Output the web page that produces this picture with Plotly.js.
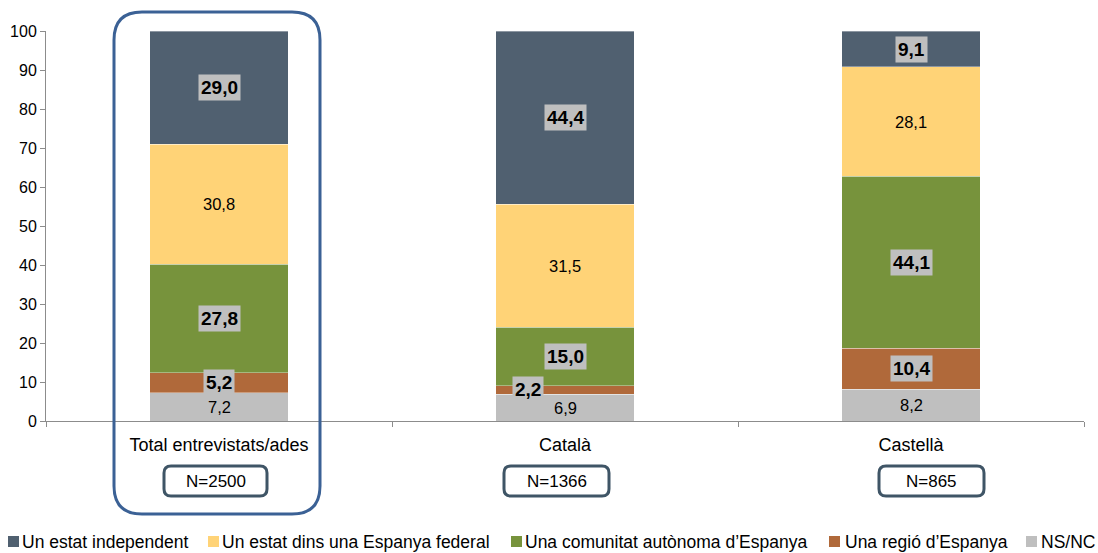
<!DOCTYPE html>
<html>
<head>
<meta charset="utf-8">
<script src="https://cdn.plot.ly/plotly-3.0.1.min.js"></script>
<style>html,body{margin:0;padding:0;background:#fff;}#chart{width:1098px;height:553px;}</style>
</head>
<body>
<div id="chart"></div>
<script>
// ---- data ----
const categories = ['Total entrevistats/ades', 'Català', 'Castellà'];
const sampleSizes = ['N=2500', 'N=1366', 'N=865'];
const seriesNames = ['Un estat independent', 'Un estat dins una Espanya federal', 'Una comunitat autònoma d\u2019Espanya', 'Una regió d\u2019Espanya', 'NS/NC'];
const independent = [29.0, 44.4, 9.1];
const federal = [30.8, 31.5, 28.1];
const comunitat = [27.8, 15.0, 44.1];
const regio = [5.2, 2.2, 10.4];
const nsnc = [7.2, 6.9, 8.2];

// ---- styles ----
const colors = ['#506070', '#FFD377', '#77933C', '#B0693A', '#BFBFBF'];
const boldLabel = [true, false, true, true, false];
const FONT = '"Liberation Sans", Arial, sans-serif';

// stacking order bottom -> top
const stackSeries = [nsnc, regio, comunitat, federal, independent];
const stackIdx = [4, 3, 2, 1, 0];

const W = 1098, H = 553, ML = 46, MR = 14, MT = 31, MB = 132;
const PW = W - ML - MR, PH = H - MT - MB;
const px = x => (x - ML) / PW;
const py = y => (MT + PH - y) / PH;

const traces = stackSeries.map((vals, k) => {
  const i = stackIdx[k];
  return {
    type: 'bar', x: categories, y: vals, name: seriesNames[i],
    marker: {color: colors[i], line: {color: 'rgba(255,255,255,0.35)', width: 1}},
    width: 0.4, hoverinfo: 'skip', showlegend: false
  };
});

const fmt = v => v.toFixed(1).replace('.', ',');
const annotations = [];
const base = [0, 0, 0];
stackSeries.forEach((vals, k) => {
  const i = stackIdx[k];
  vals.forEach((v, c) => {
    const mid = base[c] + v / 2;
    base[c] += v;
    const bold = boldLabel[i];
    let xshift = 0;
    if (i === 3 && v < 4) xshift = -37;
    annotations.push({
      x: categories[c], y: mid, xref: 'x', yref: 'y', showarrow: false,
      xanchor: 'center', yanchor: 'middle',
      text: bold ? '<b>' + fmt(v) + '</b>' : fmt(v),
      font: {family: FONT, size: bold ? 19 : 16.5, color: '#000'},
      bgcolor: bold ? '#BFBFBF' : 'rgba(0,0,0,0)',
      borderpad: bold ? 2 : 0, xshift: xshift
    });
  });
});

function roundRect(x0, y0, x1, y1, r) {
  const X = px, Y = py;
  return 'M' + X(x0 + r) + ',' + Y(y0) +
    ' L' + X(x1 - r) + ',' + Y(y0) + ' Q' + X(x1) + ',' + Y(y0) + ' ' + X(x1) + ',' + Y(y0 + r) +
    ' L' + X(x1) + ',' + Y(y1 - r) + ' Q' + X(x1) + ',' + Y(y1) + ' ' + X(x1 - r) + ',' + Y(y1) +
    ' L' + X(x0 + r) + ',' + Y(y1) + ' Q' + X(x0) + ',' + Y(y1) + ' ' + X(x0) + ',' + Y(y1 - r) +
    ' L' + X(x0) + ',' + Y(y0 + r) + ' Q' + X(x0) + ',' + Y(y0) + ' ' + X(x0 + r) + ',' + Y(y0) + ' Z';
}

const shapes = [];
shapes.push({type: 'path', xref: 'paper', yref: 'paper', path: roundRect(114, 12, 320, 514, 28),
  line: {color: '#3B6195', width: 3}});
const nBoxes = [[164, 267], [504, 609], [879, 984]];
nBoxes.forEach((b, c) => {
  shapes.push({type: 'path', xref: 'paper', yref: 'paper', path: roundRect(b[0], 466, b[1], 496, 7),
    line: {color: '#3F5566', width: 3}});
  annotations.push({xref: 'paper', yref: 'paper', x: px((b[0] + b[1]) / 2), y: py(482),
    xanchor: 'center', yanchor: 'middle',
    text: sampleSizes[c], showarrow: false, font: {family: FONT, size: 17, color: '#000'}});
});

// custom legend
const legSquares = [8, 208, 511, 829, 1026];
const legText = [20, 220, 523, 843, 1039];
seriesNames.forEach((name, i) => {
  const sx = legSquares[i];
  shapes.push({type: 'rect', xref: 'paper', yref: 'paper', x0: px(sx), x1: px(sx + 11), y0: py(547), y1: py(536),
    fillcolor: colors[i], line: {width: 0}});
  annotations.push({xref: 'paper', yref: 'paper', x: px(legText[i]), y: py(542), xanchor: 'left', yanchor: 'middle',
    text: name, showarrow: false, font: {family: FONT, size: 17.5, color: '#000'}});
});

const layout = {
  width: W, height: H, margin: {l: ML, r: MR, t: MT, b: MB},
  barmode: 'stack', showlegend: false,
  paper_bgcolor: '#fff', plot_bgcolor: '#fff',
  font: {family: FONT, color: '#000'},
  xaxis: {type: 'category', range: [-0.5, 2.5], showline: true, linecolor: '#8C8C8C', linewidth: 1,
    ticks: 'outside', tickson: 'boundaries', ticklen: 5, tickcolor: '#8C8C8C', ticklabelstandoff: 7,
    tickfont: {family: FONT, size: 18, color: '#000'}, showgrid: false, zeroline: false, fixedrange: true},
  yaxis: {range: [0, 100], dtick: 10, showline: true, linecolor: '#8C8C8C', linewidth: 1,
    ticks: 'outside', ticklen: 5, tickcolor: '#8C8C8C', showgrid: false, zeroline: false,
    tickfont: {family: FONT, size: 16, color: '#000'}, fixedrange: true},
  shapes: shapes, annotations: annotations
};

Plotly.newPlot('chart', traces, layout, {staticPlot: true, displayModeBar: false});
</script>
</body>
</html>
